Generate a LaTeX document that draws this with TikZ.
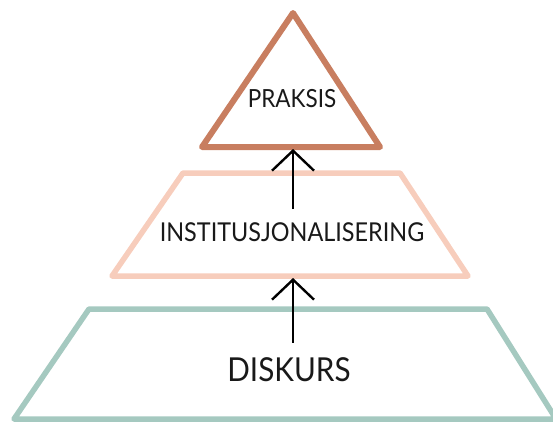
\documentclass[tikz,border=0pt]{standalone}
\usepackage{fontspec}
\setmainfont{Lato}[FakeStretch=0.9]
\usetikzlibrary{arrows.meta}

\definecolor{praksisbrun}{RGB}{200,126,96}
\definecolor{institusjonrosa}{RGB}{247,205,188}
\definecolor{diskursgronn}{RGB}{165,201,192}

\tikzset{every picture/.style={line width=0.75pt}}

\begin{document}
\begin{tikzpicture}[x=1pt,y=1pt,yscale=-1,xscale=1,
	lag/.style={line width=5.5pt, line join=round},
	pil/.style={line width=2.4pt, -{Straight Barb[length=20pt,width=42pt,line width=2.4pt]}},
	etikett/.style={inner sep=0pt, text=black!90}]
	\useasboundingbox (0,0) rectangle (553,424);

	%Shape: Triangle (praksis)
	\coordinate (p1) at (293,13);
	\coordinate (p2) at (202,147);
	\coordinate (p3) at (380,147);
	\draw [lag, draw=praksisbrun, line width=6pt] (p1) -- (p2) -- (p3) -- cycle;
	%Shape: Trapezoid (institusjonalisering)
	\coordinate (i1) at (183,173);
	\coordinate (i2) at (400,173);
	\coordinate (i3) at (468,276);
	\coordinate (i4) at (112,276);
	\draw [lag, draw=institusjonrosa] (i1) -- (i2) -- (i3) -- (i4) -- cycle;
	%Shape: Trapezoid (diskurs)
	\coordinate (d1) at (89,309);
	\coordinate (d2) at (487,309);
	\coordinate (d3) at (556,419);
	\coordinate (d4) at (14,419);
	\draw [lag, draw=diskursgronn] (d1) -- (d2) -- (d3) -- (d4) -- cycle;

	% Text Node
	\node [etikett, font=\fontsize{25}{30}\selectfont] (praksis) at (292,99) {PRAKSIS};
	% Text Node
	\node [etikett, font=\fontsize{26}{31}\selectfont] (inst) at (292,232) {INSTITUSJONALISERING};
	% Text Node
	\node [etikett, font=\fontsize{33}{39}\selectfont] (diskurs) at (289,370) {DISKURS};

	%Arrows
	\coordinate (pbase) at (293,149);
	\coordinate (ibase) at (293,278);
	\draw [pil] (pbase |- inst.north) ++(0,-13) -- (pbase);
	\draw [pil] (ibase |- diskurs.north) ++(0,-15) -- (ibase);

\end{tikzpicture}
\end{document}
